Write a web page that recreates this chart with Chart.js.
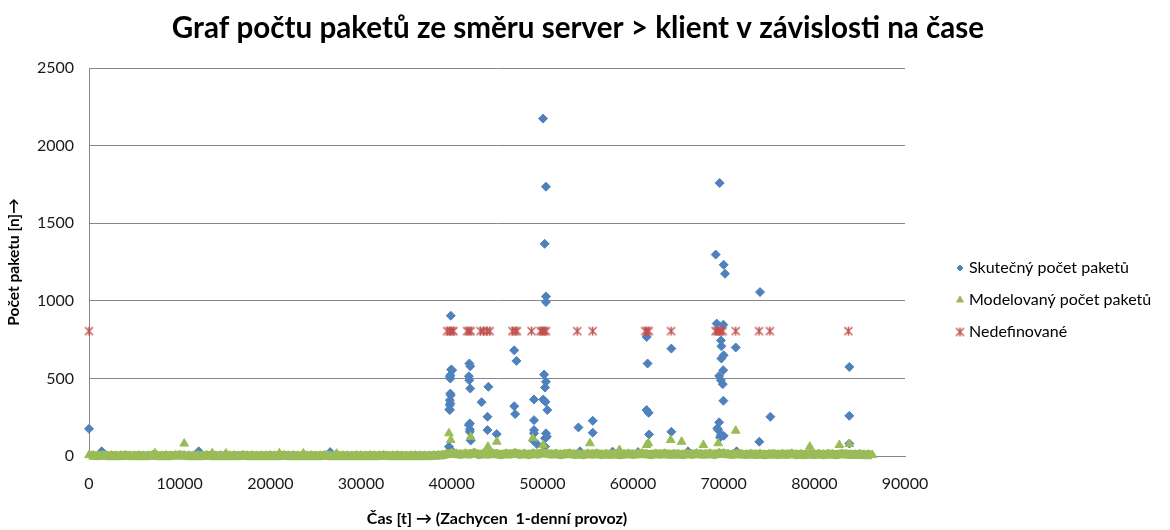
<!DOCTYPE html>
<html>
<head>
<meta charset="utf-8">
<script src="https://cdn.jsdelivr.net/npm/chart.js@4.4.1/dist/chart.umd.min.js"></script>
<style>
    html, body { margin: 0; padding: 0; background: #fff; }
</style>
</head>
<body>
<canvas id="chart" width="1170" height="530"></canvas>
<script>
/* Graf počtu paketů – server > klient */

const chartTitle = 'Graf počtu paketů ze směru server > klient v závislosti na čase';
const xTitle = 'Čas [t] → (Zachycen  1-denní provoz)';
const yTitle = 'Počet paketu [n]→';
const seriesNames = ['Skutečný počet paketů', 'Modelovaný počet paketů', 'Nedefinované'];

// axis ticks
const xTicks = [0, 10000, 20000, 30000, 40000, 50000, 60000, 70000, 80000, 90000];
const yTicks = [0, 500, 1000, 1500, 2000, 2500];

// Skutečný počet paketů (measured)
const realTimes = [
    0, 1400, 12100, 26600,
    39700, 39750, 39800, 39800, 39800, 39850, 39850, 39850, 39900, 39900, 39900, 39950, 40050, 39850, 39800,
    41900, 41900, 41950, 41950, 42000, 42000, 42000, 42050, 42050, 42100,
    43300, 43950, 43950, 44050, 44970,
    46900, 46900, 47000, 47150,
    49000, 49080, 49080, 49080, 49080, 49400,
    50080, 50100, 50200, 50260, 50300, 50300, 50300, 50350, 50400, 50400, 50400, 50400, 50400, 50500, 50550,
    53980, 54150, 55560, 55560, 57750, 60550,
    61500, 61510, 61610, 61730, 61770, 64230, 64230, 66070,
    69120, 69230, 69300, 69400, 69500, 69500, 69560, 69600, 69700, 69700, 69700, 69750, 69750,
    69900, 69950, 69960, 69970, 70000, 70000, 70000, 70150,
    71330, 71430, 73930, 74010, 75150, 83860, 83860, 83860
];
const realValues = [
    175, 30, 30, 25,
    60, 300, 296, 360, 510, 339, 499, 402, 40, 392, 904, 557, 553, 521, 328,
    514, 199, 596, 488, 210, 171, 156, 578, 435, 100,
    347, 253, 167, 446, 141,
    681, 321, 270, 613,
    100, 364, 231, 167, 146, 77,
    2174, 364, 525, 1367, 441, 114, 60, 349, 1735, 1028, 992, 478, 146, 124, 296,
    184, 30, 227, 150, 28, 25,
    296, 767, 596, 278, 139, 692, 156, 30,
    1298, 853, 178, 167, 516, 217, 1759, 120, 745, 488, 135, 707, 628,
    463, 553, 846, 356, 1232, 649, 130, 1174,
    699, 30, 92, 1056, 253, 574, 259, 80
];

// Modelovaný počet paketů – dense low band
const modelTimes = [
    0, 500, 1000, 1500, 2000, 2500, 3000, 3500, 4000, 4500, 5000, 5500, 6000, 6500, 7000, 7500, 8000, 8500, 9000, 9500,
    10000, 10500, 11000, 11500, 12000, 12500, 13000, 13500, 14000, 14500, 15000, 15500, 16000, 16500, 17000, 17500, 18000, 18500, 19000, 19500,
    20000, 20500, 21000, 21500, 22000, 22500, 23000, 23500, 24000, 24500, 25000, 25500, 26000, 26500, 27000, 27500, 28000, 28500, 29000, 29500,
    30000, 30500, 31000, 31500, 32000, 32500, 33000, 33500, 34000, 34500, 35000, 35500, 36000, 36500, 37000, 37500, 38000, 38500, 39000, 39500,
    40000, 40500, 41000, 41500, 42000, 42500, 43000, 43500, 44000, 44500, 45000, 45500, 46000, 46500, 47000, 47500, 48000, 48500, 49000, 49500,
    50000, 50500, 51000, 51500, 52000, 52500, 53000, 53500, 54000, 54500, 55000, 55500, 56000, 56500, 57000, 57500, 58000, 58500, 59000, 59500,
    60000, 60500, 61000, 61500, 62000, 62500, 63000, 63500, 64000, 64500, 65000, 65500, 66000, 66500, 67000, 67500, 68000, 68500, 69000, 69500,
    70000, 70500, 71000, 71500, 72000, 72500, 73000, 73500, 74000, 74500, 75000, 75500, 76000, 76500, 77000, 77500, 78000, 78500, 79000, 79500,
    80000, 80500, 81000, 81500, 82000, 82500, 83000, 83500, 84000, 84500, 85000, 85500, 86000, 86400
];
const modelValues = [
    5, 3, 2, 4, 1, 3, 2, 2, 4, 1, 2, 3, 1, 2, 5, 2, 1, 3, 2, 4,
    6, 3, 2, 1, 3, 2, 4, 2, 1, 3, 2, 2, 3, 1, 4, 2, 3, 1, 2, 2,
    3, 2, 1, 4, 2, 3, 1, 2, 2, 3, 1, 2, 4, 2, 1, 3, 2, 2, 1, 3,
    2, 1, 3, 2, 2, 4, 1, 2, 3, 2, 1, 2, 3, 2, 2, 1, 3, 4, 6, 12,
    18, 14, 10, 15, 12, 20, 9, 14, 11, 16, 13, 8, 15, 12, 18, 10, 14, 9, 16, 12,
    20, 15, 11, 14, 9, 13, 16, 10, 12, 8, 14, 11, 15, 9, 12, 10, 13, 8, 11, 14,
    10, 13, 16, 12, 9, 14, 11, 15, 10, 13, 12, 9, 14, 10, 16, 12, 11, 15, 9, 18,
    16, 12, 10, 14, 11, 9, 13, 10, 12, 8, 11, 13, 9, 12, 10, 14, 9, 11, 8, 12,
    10, 12, 9, 13, 11, 8, 14, 12, 10, 9, 11, 8, 10, 6
];
// model peaks above the band
const modelPeakTimes = [
    7280, 10500, 13600, 15100, 21000, 23650, 27300,
    39700, 39900, 42100, 44000, 44980, 48950, 50100, 55250, 58500, 61500, 61700,
    64150, 65360, 67760, 69400, 71330, 79500, 82760, 83860
];
const modelPeakValues = [
    18, 80, 18, 16, 17, 16, 15,
    146, 103, 124, 60, 92, 114, 71, 82, 39, 71, 82,
    103, 92, 71, 82, 163, 60, 71, 77
];

// Nedefinované
const undefTimes = [
    0, 39500, 39800, 40000, 40200, 41700, 41900, 42100, 43200, 43500, 43900, 44200,
    46700, 47000, 47200, 48800, 49800, 50000, 50200, 50400, 53850, 55550,
    61350, 61550, 61750, 64200, 69100, 69300, 69500, 69700, 69900, 71330, 73900, 75100, 83750
];
const undefValues = [
    805, 805, 805, 805, 805, 805, 805, 805, 805, 805, 805, 805,
    805, 805, 805, 805, 805, 805, 805, 805, 805, 805,
    805, 805, 805, 805, 805, 805, 805, 805, 805, 805, 805, 805, 805
];

const BLUE = '#4F81BD';
const GREEN = '#9BBB59';
const RED = '#C0504D';
const FONT = 'Lato';

// Excel style asterisk marker (X with a vertical bar)
function makeStar(color) {
    const c = document.createElement('canvas');
    c.width = 11;
    c.height = 11;
    const g = c.getContext('2d');
    g.strokeStyle = color;
    g.lineWidth = 1.4;
    g.beginPath();
    g.moveTo(1.5, 1.5); g.lineTo(9.5, 9.5);
    g.moveTo(9.5, 1.5); g.lineTo(1.5, 9.5);
    g.moveTo(5.5, 1); g.lineTo(5.5, 10);
    g.stroke();
    return c;
}
const starImg = makeStar(RED);

function toPoints(xs, ys) {
    return xs.map((x, i) => ({ x: x, y: ys[i] }));
}

// title + legend drawn on the right like in Excel
const titleAndLegend = {
    id: 'titleAndLegend',
    afterDraw(chart) {
        const ctx = chart.ctx;
        ctx.save();
        ctx.fillStyle = '#000';
        ctx.textBaseline = 'middle';
        ctx.textAlign = 'center';
        ctx.font = 'bold 29.6px ' + FONT;
        ctx.fillText(chartTitle, 578, 28);

        ctx.textAlign = 'left';
        ctx.font = '16px ' + FONT;
        const styles = [
            { pointStyle: 'rectRot', radius: 3, fill: BLUE },
            { pointStyle: 'triangle', radius: 4, fill: GREEN },
            { pointStyle: starImg, radius: 4, fill: RED }
        ];
        seriesNames.forEach((name, i) => {
            const y = 268 + i * 32;
            const s = styles[i];
            ctx.fillStyle = s.fill;
            ctx.strokeStyle = s.fill;
            ctx.lineWidth = 1;
            Chart.helpers.drawPoint(ctx, { pointStyle: s.pointStyle, radius: s.radius, rotation: 0, borderWidth: 1 }, 960, y);
            ctx.fillStyle = '#000';
            ctx.fillText(name, 969, y);
        });
        ctx.restore();
    }
};

const ctx = document.getElementById('chart').getContext('2d');
new Chart(ctx, {
    type: 'scatter',
    data: {
        datasets: [
            {
                label: seriesNames[0],
                data: toPoints(realTimes, realValues),
                pointStyle: 'rectRot',
                pointRadius: 4.5,
                backgroundColor: BLUE,
                borderColor: BLUE,
                borderWidth: 1,
                order: 3,
                clip: false
            },
            {
                // the dense band of modelled values along the bottom
                label: seriesNames[1],
                data: toPoints(modelTimes, modelValues),
                showLine: true,
                tension: 0,
                pointStyle: 'triangle',
                pointRadius: 5,
                backgroundColor: GREEN,
                borderColor: GREEN,
                borderWidth: 9,
                pointBorderWidth: 1,
                order: 2,
                clip: false
            },
            {
                label: seriesNames[1],
                data: toPoints(modelPeakTimes, modelPeakValues),
                pointStyle: 'triangle',
                pointRadius: 5,
                backgroundColor: GREEN,
                borderColor: GREEN,
                borderWidth: 1,
                order: 2,
                clip: false
            },
            {
                label: seriesNames[2],
                data: toPoints(undefTimes, undefValues),
                pointStyle: starImg,
                pointRadius: 5,
                order: 1,
                clip: false
            }
        ]
    },
    options: {
        responsive: false,
        animation: false,
        devicePixelRatio: 1,
        events: [],
        layout: { padding: { left: 0, right: 265, top: 68, bottom: 0 } },
        plugins: {
            legend: { display: false },
            tooltip: { enabled: false },
            title: { display: false }
        },
        scales: {
            x: {
                type: 'linear',
                min: xTicks[0],
                max: xTicks[xTicks.length - 1],
                afterBuildTicks(scale) { scale.ticks = xTicks.map(v => ({ value: v })); },
                afterFit(scale) { scale.height = 74; },
                grid: { display: false },
                border: { display: true, color: '#868686', width: 1 },
                ticks: {
                    color: '#1a1a1a',
                    font: { family: FONT, size: 16 },
                    padding: 10,
                    maxRotation: 0,
                    autoSkip: false,
                    callback: v => String(v)
                },
                title: {
                    display: true,
                    text: xTitle,
                    color: '#000',
                    font: { family: FONT, size: 16, weight: 'bold' },
                    padding: { top: 0, bottom: 2 }
                }
            },
            y: {
                min: yTicks[0],
                max: yTicks[yTicks.length - 1],
                afterBuildTicks(scale) { scale.ticks = yTicks.map(v => ({ value: v })); },
                afterFit(scale) { scale.width = 89; },
                grid: { color: '#868686', lineWidth: 1, drawTicks: false },
                border: { display: true, color: '#868686', width: 1 },
                ticks: {
                    color: '#1a1a1a',
                    font: { family: FONT, size: 16 },
                    padding: 15,
                    callback: v => String(v)
                },
                title: {
                    display: true,
                    text: yTitle,
                    color: '#000',
                    font: { family: FONT, size: 15.5, weight: 'bold' },
                    padding: { top: 5, bottom: 0 }
                }
            }
        }
    },
    plugins: [titleAndLegend]
});
</script>
</body>
</html>
